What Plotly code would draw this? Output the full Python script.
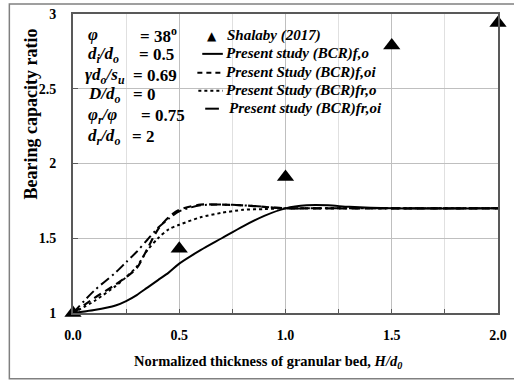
import plotly.graph_objects as go

# ---------------- data ----------------
shalaby_x = [0.0, 0.5, 1.0, 1.5, 2.0]
shalaby_y = [1.00, 1.43, 1.91, 2.79, 2.94]

h_ratio = [0, 0.1, 0.2, 0.25, 0.3, 0.35, 0.4, 0.45, 0.5, 0.6, 0.7, 0.8, 0.9, 1.0, 1.1, 1.2, 1.3, 1.5, 2.0]
bcr_f_o = [1.00, 1.02, 1.05, 1.08, 1.12, 1.17, 1.22, 1.27, 1.33, 1.42, 1.50, 1.58, 1.65, 1.70, 1.72, 1.72, 1.71, 1.70, 1.70]
bcr_f_oi = [1.00, 1.10, 1.19, 1.24, 1.30, 1.43, 1.56, 1.64, 1.69, 1.725, 1.725, 1.72, 1.71, 1.70, 1.70, 1.70, 1.70, 1.70, 1.70]
bcr_fr_o = [1.00, 1.08, 1.18, 1.24, 1.31, 1.42, 1.50, 1.56, 1.59, 1.64, 1.67, 1.69, 1.695, 1.70, 1.70, 1.70, 1.70, 1.70, 1.70]
bcr_fr_oi = [1.00, 1.15, 1.27, 1.34, 1.41, 1.49, 1.57, 1.63, 1.68, 1.72, 1.725, 1.72, 1.71, 1.70, 1.70, 1.70, 1.70, 1.70, 1.70]

series_names = ["Shalaby (2017)", "Present study (BCR)f,o", "Present Study (BCR)f,oi",
                "Present Study (BCR)fr,o", "Present study (BCR)fr,oi"]

x_ticks = [0.0, 0.5, 1.0, 1.5, 2.0]
x_tick_labels = ["0.0", "0.5", "1.0", "1.5", "2.0"]
y_ticks = [1, 1.5, 2, 2.5, 3]
y_tick_labels = ["1", "1.5", "2", "2.5", "3"]

param_labels = ["<i>φ</i>", "<i>d<sub>i</sub>/d<sub>o</sub></i>", "<i>γd<sub>o</sub>/s<sub>u</sub></i>",
                "<i>D/d<sub>o</sub></i>", "<i>φ<sub>r</sub>/φ</i>", "<i>d<sub>r</sub>/d<sub>o</sub></i>"]
param_values = ["= 38<sup>o</sup>", "= 0.5", "= 0.69", "= 0", "= 0.75", "= 2"]

# ---------------- layout geometry (pixels) ----------------
W, H = 514, 380
L, R, T, B = 73, 507, 13, 313
def px(x):
    return (x - L) / (R - L)
def py(y):
    return (B - y) / (B - T)

FONT = "'Liberation Serif', 'Times New Roman', Tinos, serif"

fig = go.Figure()
fig.add_trace(go.Scatter(x=shalaby_x, y=shalaby_y, mode="markers", name=series_names[0],
                         marker=dict(symbol="triangle-up", size=15, color="black"), cliponaxis=False))
fig.add_trace(go.Scatter(x=h_ratio, y=bcr_f_o, mode="lines", name=series_names[1],
                         line=dict(color="black", width=2, shape="spline", smoothing=0.8)))
fig.add_trace(go.Scatter(x=h_ratio, y=bcr_f_oi, mode="lines", name=series_names[2],
                         line=dict(color="black", width=2.2, dash="8px,5px", shape="spline", smoothing=0.8)))
fig.add_trace(go.Scatter(x=h_ratio, y=bcr_fr_o, mode="lines", name=series_names[3],
                         line=dict(color="black", width=2, dash="dot", shape="spline", smoothing=0.8)))
fig.add_trace(go.Scatter(x=h_ratio, y=bcr_fr_oi, mode="lines", name=series_names[4],
                         line=dict(color="black", width=2, dash="10px,4px,2px,4px", shape="spline", smoothing=0.8)))

annotations = []
shapes = []

# parameter block
label_x = [86, 86, 83, 86, 86, 86]
value_x = [139, 138, 132, 132, 140, 131]
row_y = [34, 54, 75, 94, 115, 136]
for lab, val, lx, vx, ry in zip(param_labels, param_values, label_x, value_x, row_y):
    annotations.append(dict(x=px(lx), y=py(ry), xref="paper", yref="paper", text=lab, showarrow=False,
                            xanchor="left", yanchor="middle",
                            font=dict(family=FONT, size=17, color="black", weight="bold")))
    annotations.append(dict(x=px(vx), y=py(ry), xref="paper", yref="paper", text=val, showarrow=False,
                            xanchor="left", yanchor="middle",
                            font=dict(family=FONT, size=17, color="black", weight="bold")))

# legend (built by hand so that row spacing matches)
leg_y = [35, 53, 72, 90, 108]
leg_text_x = [228, 227, 227, 227, 230]
for name, ly, tx in zip(series_names, leg_y, leg_text_x):
    annotations.append(dict(x=px(tx), y=py(ly), xref="paper", yref="paper", text=name, showarrow=False,
                            xanchor="left", yanchor="middle",
                            font=dict(family=FONT, size=15, color="black", weight="bold", style="italic")))
annotations.append(dict(x=px(215), y=py(35), xref="paper", yref="paper", text="▲", showarrow=False,
                        xanchor="center", yanchor="middle", font=dict(family="DejaVu Sans", size=12, color="black")))
leg_samples = [
    (205, 226, 53, "solid"),
    (200, 226, 72, "5px,4px"),
    (201, 226, 90, "dot"),
    (208, 222, 108, "solid"),
]
for x0, x1, ly, dash in leg_samples:
    shapes.append(dict(type="line", xref="paper", yref="paper", x0=px(x0), x1=px(x1), y0=py(ly), y1=py(ly),
                       line=dict(color="black", width=2, dash=dash)))

annotations.append(dict(x=px(272), y=py(362), xref="paper", yref="paper",
                        text="Normalized thickness of granular bed, <i>H/d<sub>0</sub></i>",
                        showarrow=False, xanchor="center", yanchor="middle",
                        font=dict(family=FONT, size=14.5, color="black", weight="bold")))
annotations.append(dict(x=px(30), y=py(113), xref="paper", yref="paper",
                        text="Bearing capacity ratio", textangle=-90,
                        showarrow=False, xanchor="center", yanchor="middle",
                        font=dict(family=FONT, size=18, color="black", weight="bold")))

shapes.append(dict(type="rect", xref="paper", yref="paper", x0=px(8), x1=px(530), y0=py(379), y1=py(3),
                   line=dict(color="#808080", width=1.5), fillcolor="rgba(0,0,0,0)", layer="below"))

fig.update_layout(
    width=W, height=H,
    margin=dict(l=L, r=W - R, t=T, b=H - B, pad=0),
    paper_bgcolor="white", plot_bgcolor="white",
    showlegend=False,
    annotations=annotations,
    shapes=shapes,
    xaxis=dict(range=[0, 2], tickvals=x_ticks, ticktext=x_tick_labels, showgrid=True,
               gridcolor="#bfbfbf", gridwidth=1, zeroline=False,
               showline=True, linecolor="#595959", linewidth=2, mirror=True,
               ticks="inside", ticklen=4, tickcolor="#595959",
               minor=dict(dtick=0.25, tick0=0, showgrid=True, gridcolor="#e0e0e0", gridwidth=1,
                          ticks="inside", ticklen=4, tickcolor="#595959"),
               tickfont=dict(family=FONT, size=14, color="black", weight="bold"),
               ticklabelstandoff=8, fixedrange=True),
    yaxis=dict(range=[1, 3], tickvals=y_ticks, ticktext=y_tick_labels, showgrid=True,
               gridcolor="#bfbfbf", gridwidth=1, zeroline=False,
               showline=True, linecolor="#595959", linewidth=2, mirror=True,
               ticks="inside", ticklen=5, tickcolor="#595959",
               tickfont=dict(family=FONT, size=14, color="black", weight="bold"),
               ticklabelstandoff=12, fixedrange=True),
)

fig.write_html("out.html")
